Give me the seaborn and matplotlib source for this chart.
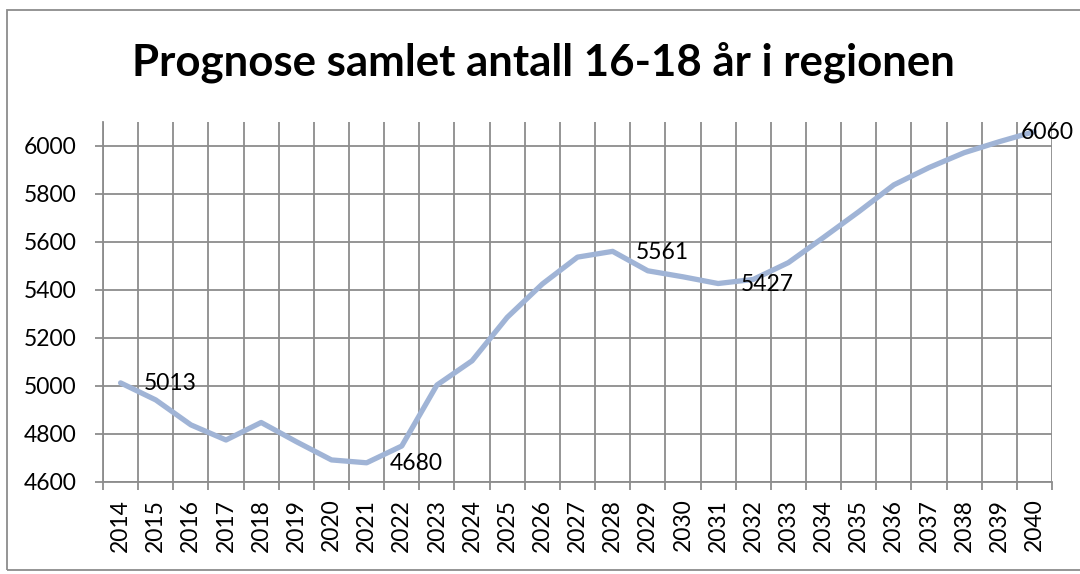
import matplotlib
matplotlib.use("Agg")
import matplotlib.pyplot as plt
import seaborn as sns
import pandas as pd
import numpy as np
from matplotlib.patches import Rectangle
from matplotlib.ticker import FixedLocator, NullFormatter

years = [str(y) for y in range(2014, 2041)]
values = [5013, 4942, 4838, 4775, 4848, 4768, 4692, 4680, 4750, 5004,
          5105, 5286, 5425, 5537, 5561, 5480, 5455, 5427, 5444, 5514,
          5619, 5726, 5838, 5910, 5972, 6018, 6060]
labeled_years = ["2014", "2021", "2028", "2031", "2040"]
title = "Prognose samlet antall 16-18 år i regionen"
y_ticks = [4600, 4800, 5000, 5200, 5400, 5600, 5800, 6000]

sns.set_theme(style="white")
plt.rcParams['font.family'] = ['Lato', 'DejaVu Sans']

df = pd.DataFrame({"pos": np.arange(len(years)), "year": years, "value": values})

fig = plt.figure(figsize=(10.8, 5.74), dpi=100)
fig.patch.set_facecolor("white")
ax = fig.add_axes([103/1080, 1-482/574, (1052-103)/1080, (482-122)/574])

grid_c = "#8c8c8c"
sns.lineplot(data=df, x="pos", y="value", ax=ax, color="#a0b4d6",
             linewidth=3.8, zorder=3)

ax.set_xlim(-0.5, len(years) - 0.5)
ax.set_ylim(4600, 6100)
ax.set_xticks(df["pos"])
ax.set_xticklabels(years, rotation=90)
ax.xaxis.set_minor_locator(FixedLocator(np.arange(-0.5, len(years), 1.0)))
ax.xaxis.set_minor_formatter(NullFormatter())
ax.set_yticks(y_ticks)
ax.set_yticklabels([str(v) for v in y_ticks])
ax.tick_params(axis="x", which="major", length=0, pad=12, labelsize=16.5,
               labelcolor="black")
ax.tick_params(axis="x", which="minor", length=5.8, width=1.3, color=grid_c,
               bottom=True)
ax.tick_params(axis="y", which="major", length=5.8, width=1.3, color=grid_c,
               pad=13, labelsize=16.5, labelcolor="black", left=True)
ax.grid(False)
ax.grid(True, axis="x", which="minor", color=grid_c, linewidth=1.3)
ax.grid(True, axis="y", which="major", color=grid_c, linewidth=1.3)
ax.set_axisbelow(True)
for s in ["top", "right"]:
    ax.spines[s].set_visible(False)
for s in ["left", "bottom"]:
    ax.spines[s].set_color(grid_c)
    ax.spines[s].set_linewidth(1.3)
ax.set_xlabel("")
ax.set_ylabel("")

for yr in labeled_years:
    i = years.index(yr)
    v = values[i]
    dx = 23 if i < len(years) - 1 else -14
    ax.annotate(str(v), xy=(i, v), xytext=(dx, -1), textcoords="offset pixels",
                ha="left", va="center", fontsize=16.5, color="black", zorder=4,
                annotation_clip=False)

fig.text(543/1080, 1-62/574, title, ha="center", va="center",
         fontsize=31.5, fontweight="bold", color="black")

fig.patches.append(Rectangle((7/1080, 1-570/574), 1.02, (570-10)/574,
                             transform=fig.transFigure, fill=False,
                             edgecolor="#8c8c8c", linewidth=1.3))

fig.savefig("out.png", dpi=100, facecolor="white")
